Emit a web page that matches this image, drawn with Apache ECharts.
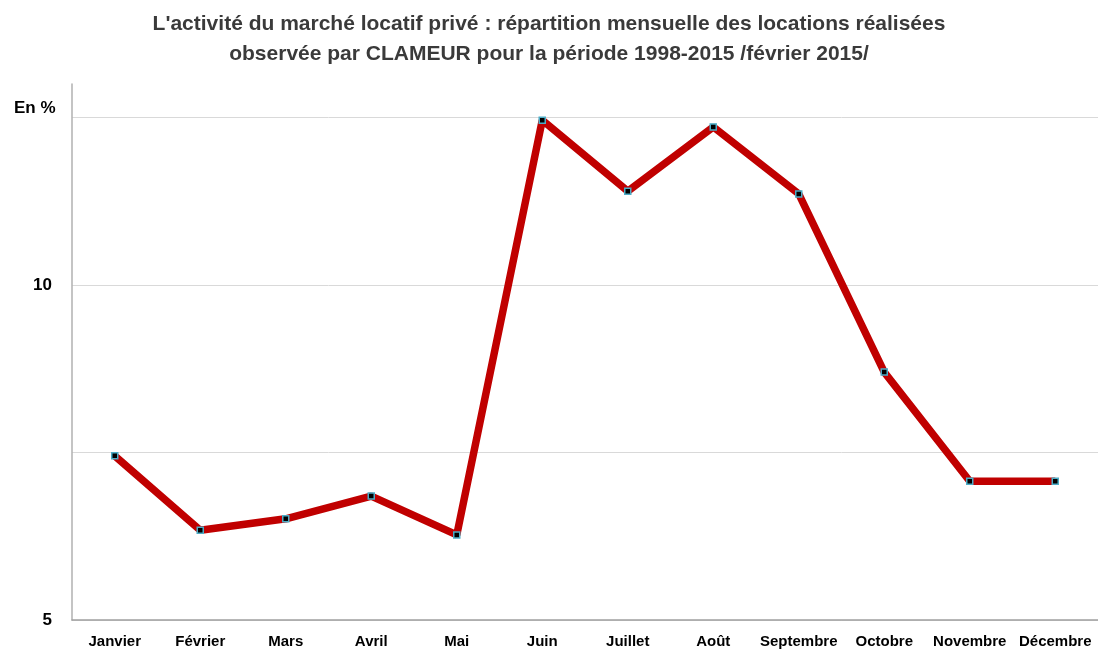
<!DOCTYPE html>
<html>
<head>
<meta charset="utf-8">
<script src="https://cdn.jsdelivr.net/npm/echarts@6/dist/echarts.min.js"></script>
<style>
    html, body { margin: 0; padding: 0; background: #fff; }
    #chart { width: 1098px; height: 653px; }
</style>
</head>
<body>
<div id="chart"></div>
<script>
// mois
const months = ['Janvier', 'Février', 'Mars', 'Avril', 'Mai', 'Juin', 'Juillet', 'Août', 'Septembre', 'Octobre', 'Novembre', 'Décembre']
// part des locations réalisées (en %)
const shares = [7.45, 6.34, 6.51, 6.85, 6.27, 12.46, 11.40, 12.36, 11.36, 8.70, 7.07, 7.07]
// graduations affichées
const shownTicks = [5, 10]

const myChart = echarts.init(document.querySelector('#chart'))
const option = {
    title: [
        {
            text: "L'activité du marché locatif privé : répartition mensuelle des locations réalisées\nobservée par CLAMEUR pour la période 1998-2015 /février 2015/",
            left: 'center',
            top: 4,
            textStyle: {
                fontFamily: 'Liberation Sans',
                fontSize: 21,
                fontWeight: 'bold',
                color: '#3a3a3a',
                lineHeight: 30
            }
        },
        {
            text: 'En %',
            left: 9,
            top: 95,
            textStyle: {
                fontFamily: 'Liberation Sans',
                fontSize: 17,
                fontWeight: 'bold',
                color: '#000'
            }
        }
    ],
    grid: {
        left: 72,
        right: 0,
        top: 84,
        bottom: 33
    },
    xAxis: {
        type: 'category',
        data: months,
        boundaryGap: true,
        axisLine: { lineStyle: { color: '#a0a0a0', width: 1.5 } },
        axisTick: { show: false },
        axisLabel: {
            fontFamily: 'Liberation Sans',
            fontSize: 15,
            fontWeight: 'bold',
            color: '#000',
            margin: 14,
            interval: 0
        }
    },
    yAxis: {
        type: 'value',
        min: 5,
        max: 13,
        interval: 2.5,
        axisLine: { show: true, lineStyle: { color: '#b0b0b0', width: 1.5 } },
        axisTick: { show: false },
        splitLine: { showMaxLine: false, lineStyle: { color: '#d9d9d9', width: 1 } },
        axisLabel: {
            fontFamily: 'Liberation Sans',
            fontSize: 17,
            fontWeight: 'bold',
            color: '#000',
            margin: 20,
            formatter: v => shownTicks.includes(v) ? String(v) : ''
        }
    },
    series: [
        {
            type: 'line',
            data: shares,
            symbol: 'rect',
            symbolSize: 6,
            itemStyle: {
                color: '#000',
                borderColor: '#4bacc6',
                borderWidth: 1.5
            },
            lineStyle: {
                color: '#c00000',
                width: 7.5
            }
        }
    ]
}
myChart.setOption(option)
</script>
</body>
</html>
